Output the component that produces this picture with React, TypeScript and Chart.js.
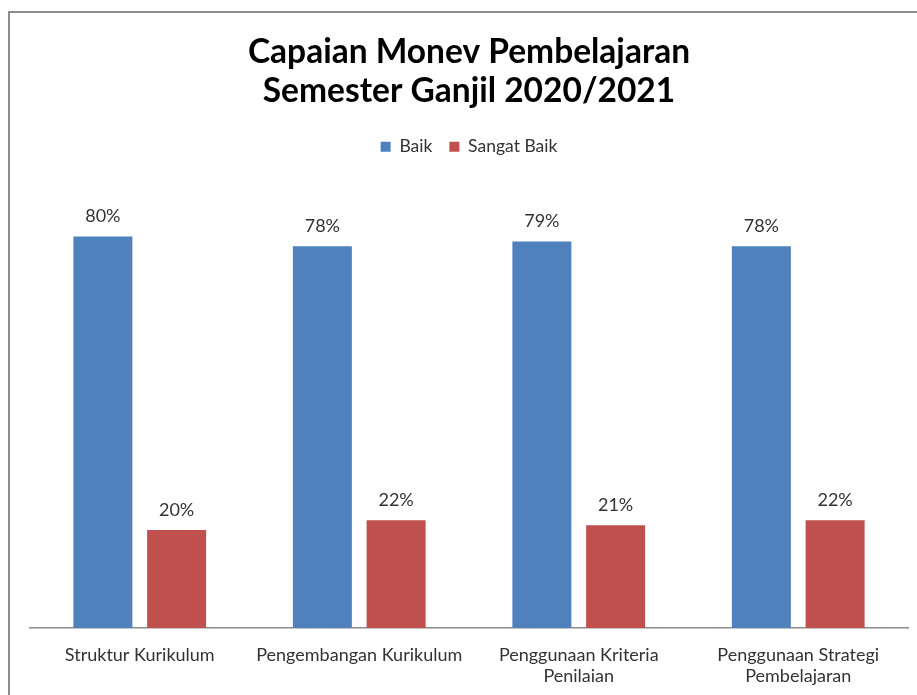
import { useEffect, useRef } from "react";
import { Chart, registerables } from "chart.js";

Chart.register(...registerables);

const categories: string[][] = [
  ["Struktur Kurikulum"],
  ["Pengembangan Kurikulum"],
  ["Penggunaan Kriteria", "Penilaian"],
  ["Penggunaan Strategi", "Pembelajaran"],
];
const baik = [80, 78, 79, 78];
const sangatBaik = [20, 22, 21, 22];
const seriesNames = ["Baik", "Sangat Baik"];
const titleLines = ["Capaian Monev Pembelajaran", "Semester Ganjil 2020/2021"];

const FONT = "Lato, 'Open Sans', sans-serif";
const W = 917;
const H = 704;

const framePlugin = {
  id: "frame",
  beforeDraw(chart: any) {
    const ctx = chart.ctx;
    ctx.save();
    ctx.fillStyle = "#ffffff";
    ctx.fillRect(0, 0, chart.width, chart.height);
    ctx.fillStyle = "#8c8c8c";
    ctx.fillRect(8, 11, 2, chart.height);
    ctx.fillRect(8, 11, chart.width, 2);
    ctx.restore();
  },
};

const legendGapPlugin = {
  id: "legendGap",
  beforeInit(chart: any) {
    const legend = chart.legend;
    if (!legend) return;
    const orig = legend.fit;
    legend.fit = function () {
      orig.call(this);
      this.height += 22;
    };
  },
};

const valueLabelPlugin = {
  id: "valueLabels",
  afterDatasetsDraw(chart: any) {
    const ctx = chart.ctx;
    ctx.save();
    ctx.font = `18px ${FONT}`;
    ctx.fillStyle = "#333333";
    ctx.textAlign = "center";
    ctx.textBaseline = "alphabetic";
    chart.data.datasets.forEach((ds: any, i: number) => {
      const meta = chart.getDatasetMeta(i);
      meta.data.forEach((el: any, j: number) => {
        ctx.fillText(`${ds.data[j]}%`, el.x, el.y - 14);
      });
    });
    ctx.restore();
  },
};

export default function App() {
  const ref = useRef<HTMLCanvasElement | null>(null);

  useEffect(() => {
    if (!ref.current) return;
    const chart = new Chart(ref.current, {
      type: "bar",
      data: {
        labels: categories,
        datasets: [
          {
            label: seriesNames[0],
            data: baik,
            backgroundColor: "#4F81BD",
            borderWidth: 0,
            categoryPercentage: 0.672,
            barPercentage: 0.8,
          },
          {
            label: seriesNames[1],
            data: sangatBaik,
            backgroundColor: "#C0504D",
            borderWidth: 0,
            categoryPercentage: 0.672,
            barPercentage: 0.8,
          },
        ],
      },
      options: {
        responsive: false,
        animation: false,
        layout: { padding: { left: 30, right: 9, top: 0, bottom: 0 } },
        plugins: {
          title: {
            display: true,
            text: titleLines,
            color: "#000000",
            font: { family: FONT, size: 33.5, weight: "bold", lineHeight: 1.18 },
            padding: { top: 32, bottom: 10 },
          },
          legend: {
            display: true,
            position: "top",
            labels: {
              boxWidth: 10,
              boxHeight: 10,
              padding: 17,
              color: "#333333",
              font: { family: FONT, size: 17.5 },
            },
          },
          tooltip: { enabled: false },
        },
        scales: {
          x: {
            grid: { display: false, drawTicks: false },
            border: { display: true, color: "#8c8c8c", width: 1.5 },
            ticks: {
              padding: 17,
              color: "#333333",
              maxRotation: 0,
              autoSkip: false,
              font: { family: FONT, size: 18, lineHeight: 1.17 },
            },
          },
          y: { display: false, min: 0, max: 90 },
        },
      },
      plugins: [framePlugin, legendGapPlugin, valueLabelPlugin],
    });
    return () => chart.destroy();
  }, []);

  return (
    <div
      style={{
        position: "fixed",
        left: 0,
        top: 0,
        width: W,
        height: 695,
        overflow: "hidden",
        background: "#fff",
      }}
    >
      <canvas ref={ref} width={W} height={H} style={{ display: "block", width: W, height: H }} />
    </div>
  );
}
